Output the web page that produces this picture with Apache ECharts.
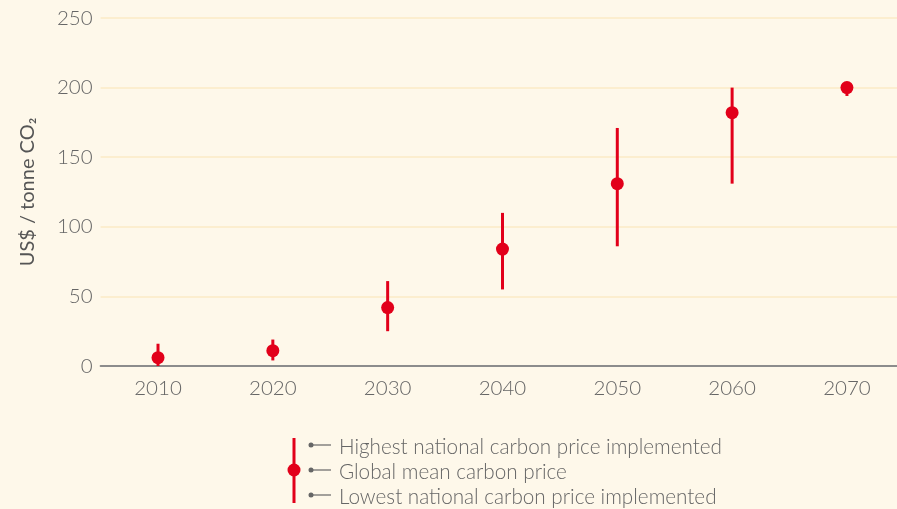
<!DOCTYPE html>
<html>
<head>
<meta charset="utf-8">
<script src="https://cdn.jsdelivr.net/npm/echarts@6/dist/echarts.min.js"></script>
<style>
  html, body { margin: 0; padding: 0; background: #fef8ea; }
  #chart { width: 897px; height: 509px; }
</style>
</head>
<body>
<div id="chart"></div>
<script>
const years = ['2010', '2020', '2030', '2040', '2050', '2060', '2070'];
const meanPrice = [6, 11, 42, 84, 131, 182, 200];
const highPrice = [16, 19, 61, 110, 171, 200, 200];
const lowPrice = [0, 4, 25, 55, 86, 131, 194];
const yTicks = [0, 50, 100, 150, 200, 250];

const red = '#e2001a';
const grey = '#666';
const font = 'Lato';

const chart = echarts.init(document.getElementById('chart'));

const idx = years.map((y, i) => i);
const rangeData = years.map((y, i) => [i, lowPrice[i], highPrice[i]]);
const meanData = years.map((y, i) => [i, meanPrice[i]]);

chart.setOption({
  backgroundColor: '#fef8ea',
  animation: false,
  grid: { left: 100.6, top: 18, right: 0, height: 348 },
  xAxis: {
    type: 'value',
    min: -0.5,
    max: 6.436,
    axisLine: { onZero: false, lineStyle: { color: '#8c8c8c', width: 2 } },
    axisTick: { show: false },
    splitLine: { show: false },
    axisLabel: {
      customValues: idx,
      formatter: v => years[v],
      color: grey, fontFamily: font, fontWeight: 300, fontSize: 20.5, margin: 12
    }
  },
  yAxis: {
    type: 'value',
    min: yTicks[0],
    max: yTicks[yTicks.length - 1],
    interval: 50,
    name: 'US$ / tonne CO₂',
    nameLocation: 'middle',
    nameGap: 63,
    nameTextStyle: { color: '#555', fontFamily: font, fontSize: 20 },
    axisLine: { show: false },
    axisTick: { show: false },
    splitLine: { lineStyle: { color: '#fbebc6', width: 1.5 } },
    axisLabel: { color: grey, fontFamily: font, fontWeight: 300, fontSize: 20.5, margin: 8 }
  },
  series: [
    {
      type: 'custom',
      data: rangeData,
      renderItem: function (params, api) {
        const lo = api.coord([api.value(0), api.value(1)]);
        const hi = api.coord([api.value(0), api.value(2)]);
        return {
          type: 'line',
          shape: { x1: lo[0], y1: lo[1], x2: hi[0], y2: hi[1] },
          style: { stroke: red, lineWidth: 3 }
        };
      },
      z: 2
    },
    {
      type: 'scatter',
      data: meanData,
      symbol: 'circle',
      symbolSize: 13,
      itemStyle: { color: red, opacity: 1 },
      z: 3
    }
  ],
  graphic: [
    { type: 'line', shape: { x1: 294, y1: 438, x2: 294, y2: 503 }, style: { stroke: red, lineWidth: 3 } },
    { type: 'circle', shape: { cx: 294, cy: 470, r: 6.5 }, style: { fill: red } },
    { type: 'circle', shape: { cx: 311, cy: 445, r: 2.5 }, style: { fill: '#666' } },
    { type: 'line', shape: { x1: 311, y1: 445, x2: 331, y2: 445 }, style: { stroke: '#666', lineWidth: 1.2 } },
    { type: 'circle', shape: { cx: 311, cy: 470, r: 2.5 }, style: { fill: '#666' } },
    { type: 'line', shape: { x1: 311, y1: 470, x2: 331, y2: 470 }, style: { stroke: '#666', lineWidth: 1.2 } },
    { type: 'circle', shape: { cx: 311, cy: 495, r: 2.5 }, style: { fill: '#666' } },
    { type: 'line', shape: { x1: 311, y1: 495, x2: 331, y2: 495 }, style: { stroke: '#666', lineWidth: 1.2 } },
    { type: 'text', x: 339, y: 447, style: { text: 'Highest national carbon price implemented', fill: grey, font: '300 20.7px Lato', verticalAlign: 'middle' } },
    { type: 'text', x: 339, y: 472, style: { text: 'Global mean carbon price', fill: grey, font: '300 20.7px Lato', verticalAlign: 'middle' } },
    { type: 'text', x: 339, y: 497, style: { text: 'Lowest national carbon price implemented', fill: grey, font: '300 20.7px Lato', verticalAlign: 'middle' } }
  ]
});
</script>
</body>
</html>
